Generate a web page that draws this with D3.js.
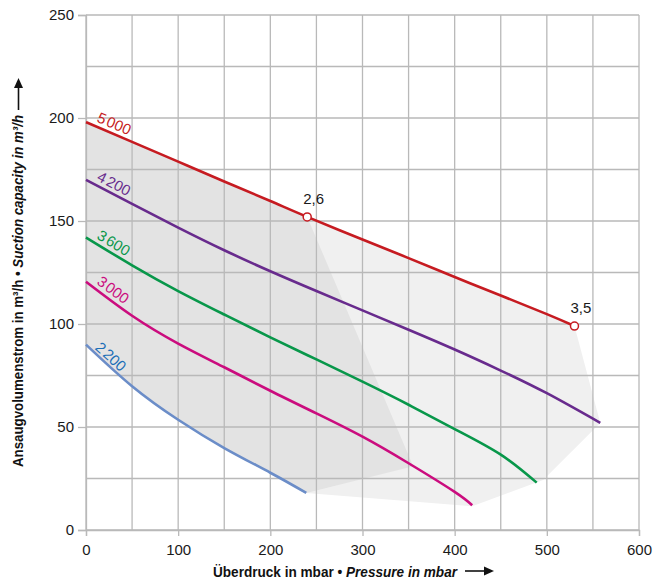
<!DOCTYPE html>
<html><head><meta charset="utf-8">
<script src="https://cdn.jsdelivr.net/npm/d3@7"></script>
<style>
body{margin:0;background:#fff}
svg{display:block}
text{font-family:"Liberation Sans",Arial,Helvetica,sans-serif}
</style>
</head><body>
<svg id="chart" width="654" height="585"></svg>
<script>
// ---------- data ----------
const xTickValues = [0, 100, 200, 300, 400, 500, 600];
const yTickValues = [0, 50, 100, 150, 200, 250];
const xGridValues = [0, 50, 100, 150, 200, 250, 300, 350, 400, 450, 500, 550, 600];
const yGridValues = [0, 25, 50, 75, 100, 125, 150, 175, 200, 225, 250];

const seriesNames  = ["5000", "4200", "3600", "3000", "2200"];
const labelHeads   = ["5", "4", "3", "3", "2"];
const labelTails   = ["000", "200", "600", "000", "200"];

const pressure5000 = [0, 50, 100, 150, 200, 240, 300, 350, 400, 450, 500, 530];
const flow5000     = [198, 188.4, 178.8, 169.2, 159.7, 152, 141, 132, 122.8, 113.8, 104.8, 99];
const pressure4200 = [0, 50, 100, 150, 200, 250, 300, 350, 400, 450, 500, 558];
const flow4200     = [170, 158.3, 146.8, 135.8, 125.6, 116, 106.6, 97.2, 87.6, 77.4, 66.4, 52];
const pressure3600 = [0, 50, 100, 150, 200, 250, 300, 350, 400, 450, 489];
const flow3600     = [142, 128.5, 116, 104.6, 93.5, 82.8, 72, 60.8, 49, 36.6, 23];
const pressure3000 = [0, 50, 100, 150, 200, 250, 300, 350, 400, 419];
const flow3000     = [120.5, 104, 90.5, 79, 67.6, 56.6, 45.3, 32.4, 18.5, 12];
const pressure2200 = [0, 50, 100, 150, 200, 239];
const flow2200     = [90, 69.8, 53.5, 39.8, 27.8, 18];

const markerPressure = [240, 530];
const markerFlow     = [152, 99];
const markerLabels   = ["2,6", "3,5"];

// corner points of the shaded operating areas (pressure, flow)
const darkAreaPressure  = [355];
const darkAreaFlow      = [31];
const lightAreaPressure = [558, 543, 496, 419, 239];
const lightAreaFlow     = [52, 45.3, 24.3, 11.5, 18];

const xTitleParts = ["Überdruck in mbar • ", "Pressure in mbar"];
const yTitleParts = ["Ansaugvolumenstrom in m³/h • ", "Suction capacity in m³/h"];

// ---------- styling ----------
const lineColors  = ["#c61b21", "#682b8d", "#08974a", "#cb0c7e", "#6b8dc8"];
const labelColors = ["#c61b21", "#682b8d", "#08974a", "#cb0c7e", "#1c6fb8"];

const svg = d3.select("#chart");
const x = d3.scaleLinear().domain([0, 600]).range([86, 639]);
const y = d3.scaleLinear().domain([0, 250]).range([530, 15]);

const seriesPressure = [pressure5000, pressure4200, pressure3600, pressure3000, pressure2200];
const seriesFlow = [flow5000, flow4200, flow3600, flow3000, flow2200];
const series = seriesNames.map((n, i) => seriesPressure[i].map((p, j) => [p, seriesFlow[i][j]]));

const line = d3.line().x(d => x(d[0])).y(d => y(d[1])).curve(d3.curveNatural);

// ---------- shaded areas ----------
const s5000 = series[0], s2200 = series[4];
const lightPts = s5000.filter(d => d[0] >= 240)
  .concat(lightAreaPressure.map((p, i) => [p, lightAreaFlow[i]]));
svg.append("path")
  .attr("d", d3.line().x(d => x(d[0])).y(d => y(d[1]))(lightPts) + "Z")
  .attr("fill", "#f0f0f0");

const topPath = line(s5000.filter(d => d[0] <= 240));
const bottomPath = line(s2200.slice().reverse());
const cornerPts = darkAreaPressure.map((p, i) => [p, darkAreaFlow[i]]);
const darkD = topPath + cornerPts.map(d => "L" + x(d[0]) + "," + y(d[1])).join("") +
  "L" + bottomPath.slice(1) + "Z";
svg.append("path").attr("d", darkD).attr("fill", "#e3e3e3");

// ---------- grid ----------
const grid = svg.append("g").attr("stroke", "#b9b9b9").attr("stroke-width", 1.3);
grid.selectAll(".gx").data(xGridValues).join("line")
  .attr("x1", d => x(d)).attr("x2", d => x(d)).attr("y1", y(250)).attr("y2", y(0));
grid.selectAll(".gy").data(yGridValues).join("line")
  .attr("x1", x(0)).attr("x2", x(600)).attr("y1", d => y(d)).attr("y2", d => y(d));

// ---------- axes ----------
const xAxis = svg.append("g").attr("transform", `translate(0,${y(0)})`)
  .call(d3.axisBottom(x).tickValues(xTickValues).tickSize(6).tickPadding(8).tickFormat(d3.format("d")));
const yAxis = svg.append("g").attr("transform", `translate(${x(0)},0)`)
  .call(d3.axisLeft(y).tickValues(yTickValues).tickSize(8).tickPadding(4).tickFormat(d3.format("d")));
[xAxis, yAxis].forEach(a => {
  a.select(".domain").attr("stroke", "#b9b9b9").attr("stroke-width", 1.3);
  a.selectAll(".tick line").attr("stroke", "#b9b9b9").attr("stroke-width", 1.3);
  a.selectAll(".tick text").attr("fill", "#1a1a1a").style("font-size", "15px")
    .style("font-family", "'Liberation Sans',Arial,sans-serif");
});

// ---------- curves ----------
svg.append("g").selectAll("path").data(series).join("path")
  .attr("d", line).attr("fill", "none")
  .attr("stroke", (d, i) => lineColors[i]).attr("stroke-width", 2.6);

// curve labels along start of each line
series.forEach((s, i) => {
  const p0 = [x(s[0][0]), y(s[0][1])], p1 = [x(s[1][0]), y(s[1][1])];
  const ang = Math.atan2(p1[1] - p0[1], p1[0] - p0[0]);
  const along = 9;
  const off = i === 4 ? 2.5 : 4.5;
  const px = p0[0] + along * Math.cos(ang) + off * Math.sin(ang);
  const py = p0[1] + along * Math.sin(ang) - off * Math.cos(ang);
  const t = svg.append("text")
    .attr("transform", `translate(${px},${py}) rotate(${ang * 180 / Math.PI})`)
    .attr("fill", labelColors[i]).style("font-size", "15px");
  t.append("tspan").text(labelHeads[i]);
  t.append("tspan").attr("dx", 1.8).text(labelTails[i]);
});

// ---------- markers ----------
markerPressure.forEach((p, i) => {
  svg.append("circle").attr("cx", x(p)).attr("cy", y(markerFlow[i])).attr("r", 4)
    .attr("fill", "#fff").attr("stroke", lineColors[0]).attr("stroke-width", 1.5);
  svg.append("text").attr("x", x(p) - 4).attr("y", y(markerFlow[i]) - 13)
    .attr("fill", "#1a1a1a").style("font-size", "15px").text(markerLabels[i]);
});

// ---------- axis titles ----------
const titleFont = "'Liberation Sans Narrow','Liberation Sans',Arial,sans-serif";
const xt = svg.append("text").attr("x", 213).attr("y", 577)
  .style("font-family", titleFont).style("font-weight", "bold").style("font-size", "14.5px")
  .attr("fill", "#111").attr("textLength", 244).attr("lengthAdjust", "spacingAndGlyphs");
xt.append("tspan").text(xTitleParts[0]);
xt.append("tspan").style("font-style", "italic").text(xTitleParts[1]);
svg.append("line").attr("x1", 465).attr("x2", 486).attr("y1", 571).attr("y2", 571)
  .attr("stroke", "#111").attr("stroke-width", 1.6);
svg.append("path").attr("d", "M484,566.5L494,571L484,575.5Z").attr("fill", "#111");

const yt = svg.append("text").attr("transform", "translate(23,467) rotate(-90)")
  .style("font-family", titleFont).style("font-weight", "bold").style("font-size", "14.5px")
  .attr("fill", "#111").attr("textLength", 352).attr("lengthAdjust", "spacingAndGlyphs");
yt.append("tspan").text(yTitleParts[0]);
yt.append("tspan").style("font-style", "italic").text(yTitleParts[1]);
svg.append("line").attr("x1", 18.5).attr("x2", 18.5).attr("y1", 110).attr("y2", 86)
  .attr("stroke", "#111").attr("stroke-width", 1.6);
svg.append("path").attr("d", "M14,88L18.5,78L23,88Z").attr("fill", "#111");
</script>
</body></html>
